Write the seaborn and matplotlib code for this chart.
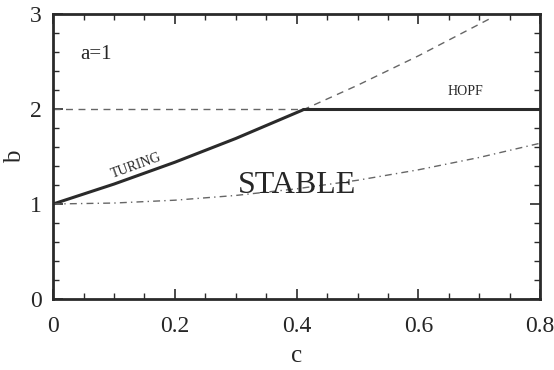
import numpy as np
import pandas as pd
import matplotlib
matplotlib.use("Agg")
import matplotlib.pyplot as plt
import seaborn as sns
from matplotlib.ticker import MultipleLocator

# Turing boundary
turing_c = [0.0, 0.1, 0.2, 0.3, 0.41, 0.5, 0.6, 0.72]
turing_b = [1.0, 1.21, 1.44, 1.69, 1.99, 2.25, 2.56, 2.96]

# Hopf boundary
hopf_c = [0.0, 0.41, 0.8]
hopf_b = [2.0, 2.0, 2.0]

# lower dash-dot curve
lower_c = [0.0, 0.1, 0.2, 0.3, 0.4, 0.5, 0.6, 0.7, 0.8]
lower_b = [1.0, 1.01, 1.04, 1.09, 1.16, 1.25, 1.36, 1.49, 1.64]

x_ticks = [0, 0.2, 0.4, 0.6, 0.8]
x_tick_labels = ["0", "0.2", "0.4", "0.6", "0.8"]
y_ticks = [0, 1, 2, 3]

split_c = 0.41

sns.set_theme(style="ticks")
plt.rcParams["font.family"] = ["Liberation Serif", "DejaVu Serif"]

fig, ax = plt.subplots(figsize=(5.54, 3.70), dpi=100)

tur = pd.DataFrame({"c": turing_c, "b": turing_b})
hop = pd.DataFrame({"c": hopf_c, "b": hopf_b})
low = pd.DataFrame({"c": lower_c, "b": lower_b})

dark = "#2a2a2a"
sns.lineplot(data=tur[tur.c <= split_c], x="c", y="b", ax=ax, color=dark, lw=2.2)
sns.lineplot(data=tur[tur.c >= split_c], x="c", y="b", ax=ax, color="#666666",
             lw=1.0, linestyle=(0, (5, 4)))
sns.lineplot(data=hop[hop.c >= split_c], x="c", y="b", ax=ax, color=dark, lw=2.2)
sns.lineplot(data=hop[hop.c <= split_c], x="c", y="b", ax=ax, color="#666666",
             lw=1.0, linestyle=(0, (5, 4)))
sns.lineplot(data=low, x="c", y="b", ax=ax, color="#666666", lw=1.0,
             linestyle=(0, (5, 3, 1, 3)))

ax.set_xlim(0, 0.8)
ax.set_ylim(0, 3)
ax.set_xticks(x_ticks)
ax.set_xticklabels(x_tick_labels)
ax.set_yticks(y_ticks)
ax.xaxis.set_minor_locator(MultipleLocator(0.05))
ax.yaxis.set_minor_locator(MultipleLocator(0.2))
ax.tick_params(which="both", direction="in", top=True, right=True, color=dark)
ax.tick_params(which="major", length=7, width=1.2, labelsize=17)
ax.tick_params(axis="x", which="major", pad=12)
ax.tick_params(axis="y", which="major", pad=8)
ax.tick_params(which="minor", length=4, width=1.0)
for s in ax.spines.values():
    s.set_linewidth(2)
    s.set_color(dark)

ax.set_xlabel("c", fontsize=18, labelpad=6)
ax.set_ylabel("b", fontsize=18, labelpad=3)

ax.text(0.045, 2.57, "a=1", fontsize=15, va="center")
ax.text(0.136, 1.40, "TURING", fontsize=10, rotation=20, ha="center", va="center")
ax.text(0.677, 2.18, "HOPF", fontsize=10, ha="center", va="center")
ax.text(0.40, 1.2, "STABLE", fontsize=23, ha="center", va="center")

fig.subplots_adjust(left=0.096, right=0.975, top=0.962, bottom=0.192)
fig.savefig("out.png", dpi=100)
